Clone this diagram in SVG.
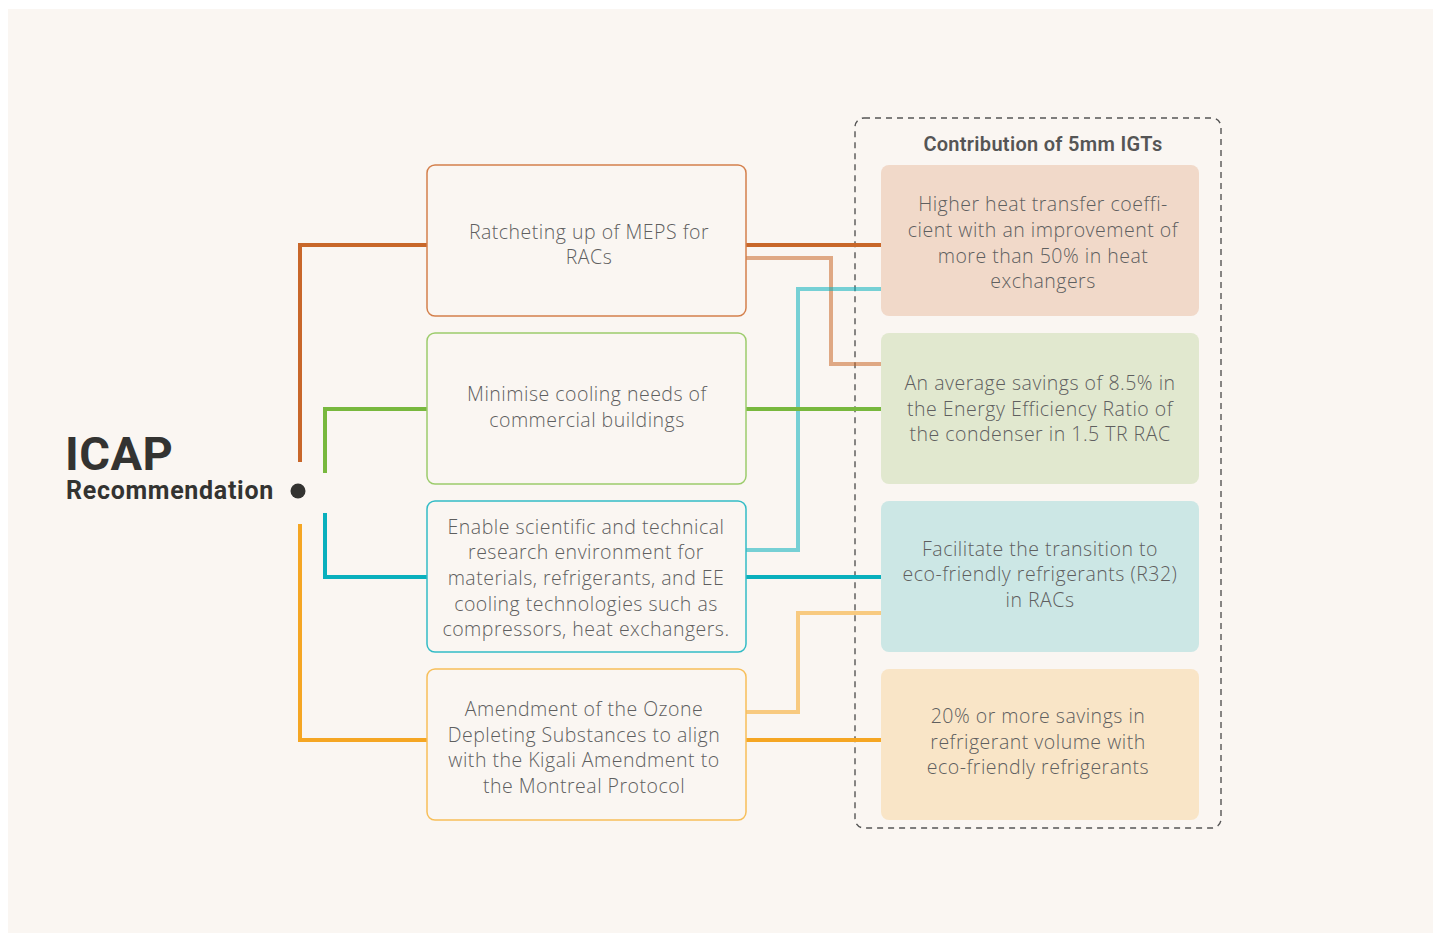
<svg xmlns="http://www.w3.org/2000/svg" width="1433" height="933" viewBox="0 0 1433 933">
  <style>
    .box { fill: #faf6f2; stroke-width: 1.5; }
    .card { stroke: none; }
    .txt { font-family: "Open Sans", "Liberation Sans", sans-serif; font-weight: 300; font-size: 19.5px; letter-spacing: 0.5px; fill: #5f5f5f; text-anchor: middle; }
    .ln { fill: none; stroke-width: 4; stroke-linecap: butt; stroke-linejoin: miter; }
    .soft { fill: none; stroke-width: 4; opacity: 0.55; }
    .head { font-family: Roboto, "Liberation Sans", sans-serif; font-weight: 700; fill: #333331; }
  </style>

  <!-- page -->
  <rect x="0" y="0" width="1433" height="933" fill="#ffffff"/>
  <rect x="8" y="9" width="1425" height="924" fill="#faf6f2"/>

  <!-- title block -->
  <g id="icap-title">
    <text class="head" x="65" y="470" font-size="47" letter-spacing="0.5">ICAP</text>
    <text class="head" x="66" y="499" font-size="25" letter-spacing="0.7">Recommendation</text>
    <circle cx="298" cy="491" r="7.5" fill="#333331"/>
  </g>

  <!-- contribution frame -->
  <g id="igt-frame">
    <rect x="855" y="118" width="366" height="710" rx="9" fill="none" stroke="#555" stroke-width="1.4" stroke-dasharray="6 5"/>
    <text x="1043" y="151" font-family="Roboto, 'Liberation Sans', sans-serif" font-weight="600" font-size="20" letter-spacing="0.3" fill="#555555" text-anchor="middle">Contribution of 5mm IGTs</text>
  </g>

  <!-- connectors -->
  <g id="connectors">
    <!-- trunk to recommendation boxes -->
    <polyline class="ln" stroke="#c8672a" points="300,462 300,245 427,245"/>
    <polyline class="ln" stroke="#78b83e" points="325,473 325,409 427,409"/>
    <polyline class="ln" stroke="#0ab0bd" points="325,513 325,577 427,577"/>
    <polyline class="ln" stroke="#f5a623" points="300,524 300,740 427,740"/>

    <!-- secondary links -->
    <polyline class="soft" stroke="#c8672a" points="746,258 831,258 831,364 881,364"/>
    <polyline class="soft" stroke="#0ab0bd" points="746,550 798,550 798,289 881,289"/>
    <polyline class="soft" stroke="#f5a623" points="746,712 798,712 798,613 881,613"/>

    <!-- direct links -->
    <line class="ln" stroke="#c8672a" x1="746" y1="245" x2="881" y2="245"/>
    <line class="ln" stroke="#78b83e" x1="746" y1="409" x2="881" y2="409"/>
    <line class="ln" stroke="#0ab0bd" x1="746" y1="577" x2="881" y2="577"/>
    <line class="ln" stroke="#f5a623" x1="746" y1="740" x2="881" y2="740"/>
  </g>

  <!-- recommendation boxes -->
  <g id="rec-meps">
    <rect class="box" x="427" y="165" width="319" height="151" rx="8" stroke="#d4804c"/>
    <text class="txt"><tspan x="589" y="239">Ratcheting up of MEPS for</tspan><tspan x="589" y="264">RACs</tspan></text>
  </g>
  <g id="rec-buildings">
    <rect class="box" x="427" y="333" width="319" height="151" rx="8" stroke="#9ccc6c"/>
    <text class="txt"><tspan x="587" y="401">Minimise cooling needs of</tspan><tspan x="587" y="427">commercial buildings</tspan></text>
  </g>
  <g id="rec-research">
    <rect class="box" x="427" y="501" width="319" height="151" rx="8" stroke="#33bcc6"/>
    <text class="txt"><tspan x="586" y="534">Enable scientific and technical</tspan><tspan x="586" y="559">research environment for</tspan><tspan x="586" y="585">materials, refrigerants, and EE</tspan><tspan x="586" y="611">cooling technologies such as</tspan><tspan x="586" y="636">compressors, heat exchangers.</tspan></text>
  </g>
  <g id="rec-ods">
    <rect class="box" x="427" y="669" width="319" height="151" rx="8" stroke="#f7bf5a"/>
    <text class="txt"><tspan x="584" y="716">Amendment of the Ozone</tspan><tspan x="584" y="742">Depleting Substances to align</tspan><tspan x="584" y="767">with the Kigali Amendment to</tspan><tspan x="584" y="793">the Montreal Protocol</tspan></text>
  </g>

  <!-- contribution cards -->
  <g id="igt-heat-transfer">
    <rect class="card" x="881" y="165" width="318" height="151" rx="8" fill="#f1d9c9"/>
    <text class="txt"><tspan x="1043" y="211">Higher heat transfer coeffi-</tspan><tspan x="1043" y="237">cient with an improvement of</tspan><tspan x="1043" y="263">more than 50% in heat</tspan><tspan x="1043" y="288">exchangers</tspan></text>
  </g>
  <g id="igt-eer">
    <rect class="card" x="881" y="333" width="318" height="151" rx="8" fill="#e1e8cf"/>
    <text class="txt"><tspan x="1040" y="390">An average savings of 8.5% in</tspan><tspan x="1040" y="416">the Energy Efficiency Ratio of</tspan><tspan x="1040" y="441">the condenser in 1.5 TR RAC</tspan></text>
  </g>
  <g id="igt-r32">
    <rect class="card" x="881" y="501" width="318" height="151" rx="8" fill="#cce7e5"/>
    <text class="txt"><tspan x="1040" y="556">Facilitate the transition to</tspan><tspan x="1040" y="581">eco-friendly refrigerants (R32)</tspan><tspan x="1040" y="607">in RACs</tspan></text>
  </g>
  <g id="igt-volume">
    <rect class="card" x="881" y="669" width="318" height="151" rx="8" fill="#f9e5c7"/>
    <text class="txt"><tspan x="1038" y="723">20% or more savings in</tspan><tspan x="1038" y="749">refrigerant volume with</tspan><tspan x="1038" y="774">eco-friendly refrigerants</tspan></text>
  </g>
</svg>
